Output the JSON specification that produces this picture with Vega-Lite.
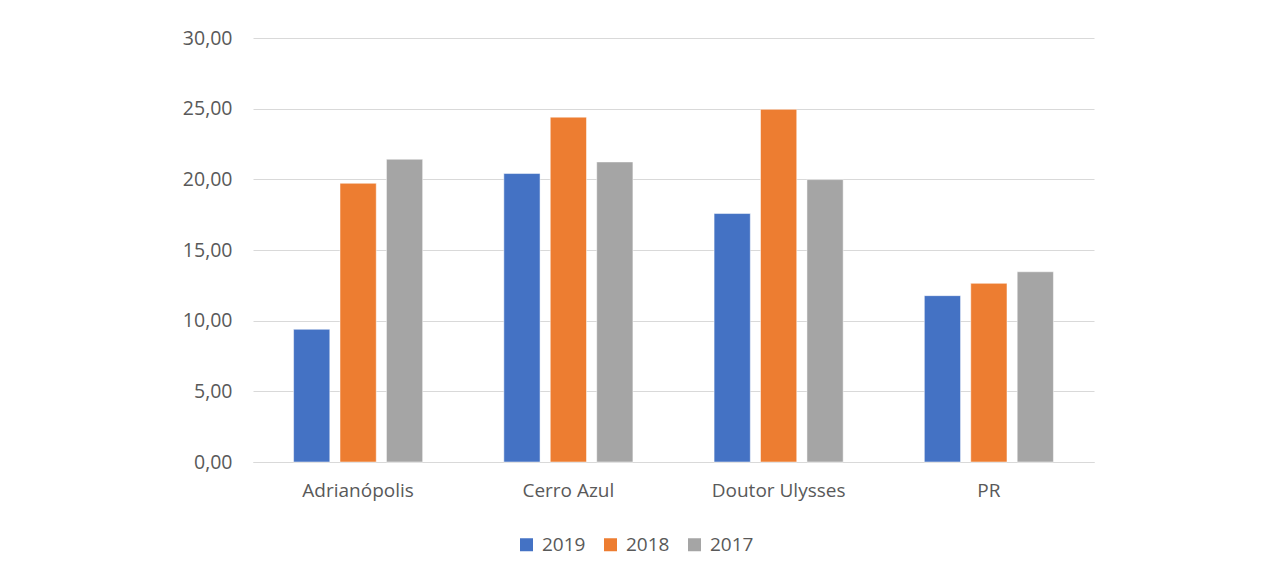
{
  "$schema": "https://vega.github.io/schema/vega-lite/v6.json",
  "width": 841,
  "height": 424,
  "autosize": {"type": "none"},
  "padding": {"left": 253, "top": 38, "right": 169, "bottom": 120},
  "background": "white",
  "data": {
    "values": [
      {"municipio": "Adrianópolis", "ano": "2019", "valor": 9.39},
      {"municipio": "Adrianópolis", "ano": "2018", "valor": 19.72},
      {"municipio": "Adrianópolis", "ano": "2017", "valor": 21.42},
      {"municipio": "Cerro Azul", "ano": "2019", "valor": 20.41},
      {"municipio": "Cerro Azul", "ano": "2018", "valor": 24.4},
      {"municipio": "Cerro Azul", "ano": "2017", "valor": 21.23},
      {"municipio": "Doutor Ulysses", "ano": "2019", "valor": 17.58},
      {"municipio": "Doutor Ulysses", "ano": "2018", "valor": 24.95},
      {"municipio": "Doutor Ulysses", "ano": "2017", "valor": 19.98},
      {"municipio": "PR", "ano": "2019", "valor": 11.77},
      {"municipio": "PR", "ano": "2018", "valor": 12.64},
      {"municipio": "PR", "ano": "2017", "valor": 13.46}
    ]
  },
  "mark": {"type": "bar", "stroke": "white", "strokeWidth": 0.5},
  "encoding": {
    "x": {
      "field": "municipio",
      "type": "nominal",
      "sort": ["Adrianópolis", "Cerro Azul", "Doutor Ulysses", "PR"],
      "scale": {"paddingInner": 0.386, "paddingOuter": 0.193},
      "axis": {
        "title": null,
        "labelAngle": 0,
        "ticks": false,
        "domain": true,
        "domainColor": "#D9D9D9",
        "domainWidth": 1,
        "labelPadding": 19,
        "labelFont": "Open Sans",
        "labelFontSize": 19,
        "labelColor": "#595959"
      }
    },
    "xOffset": {
      "field": "ano",
      "type": "nominal",
      "sort": ["2019", "2018", "2017"],
      "scale": {"paddingInner": 0.22, "paddingOuter": 0}
    },
    "y": {
      "field": "valor",
      "type": "quantitative",
      "scale": {"domain": [0, 30], "nice": false},
      "axis": {
        "title": null,
        "values": [0, 5, 10, 15, 20, 25, 30],
        "labelExpr": "replace(format(datum.value, '.2f'), '.', ',')",
        "ticks": false,
        "domain": false,
        "grid": true,
        "gridColor": "#D9D9D9",
        "gridWidth": 1,
        "labelPadding": 21,
        "labelFont": "Open Sans",
        "labelFontSize": 19.5,
        "labelColor": "#595959"
      }
    },
    "color": {
      "field": "ano",
      "type": "nominal",
      "sort": ["2019", "2018", "2017"],
      "scale": {"domain": ["2019", "2018", "2017"], "range": ["#4472C4", "#ED7D31", "#A5A5A5"]},
      "legend": {
        "title": null,
        "orient": "none",
        "direction": "horizontal",
        "legendX": 264,
        "legendY": 497,
        "symbolType": "square",
        "symbolSize": 169,
        "symbolStrokeWidth": 0,
        "labelFont": "Open Sans",
        "labelFontSize": 19,
        "labelColor": "#595959",
        "labelOffset": 6,
        "columnPadding": 15
      }
    }
  },
  "config": {
    "view": {"stroke": null}
  }
}
